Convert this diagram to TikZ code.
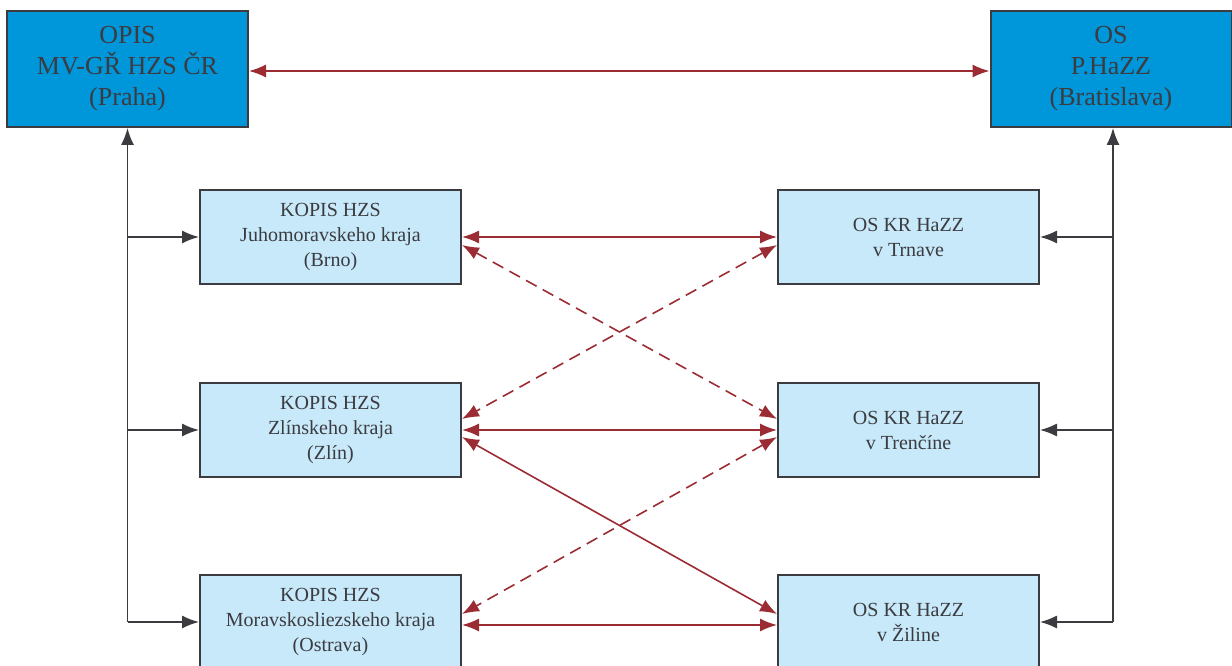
\documentclass[tikz,border=0pt]{standalone}
\usepackage{fontspec}
\setmainfont{Liberation Serif}
\newfontfamily\diagfont{Liberation Serif}
\usetikzlibrary{arrows.meta,positioning}
\definecolor{hzsblue}{HTML}{0096DA}
\definecolor{boxblue}{HTML}{C7E9F9}
\definecolor{linkred}{HTML}{9B2C33}
\definecolor{linegray}{HTML}{3B3B40}

\begin{document}
\begin{tikzpicture}[x=1pt,y=-1pt,
  main/.style={draw=linegray,line width=2pt,fill=hzsblue,minimum width=241pt,
    minimum height=116pt,align=center,text=linegray,
    font=\diagfont\fontsize{26}{31}\selectfont},
  unit/.style={draw=linegray,line width=2pt,fill=boxblue,minimum width=261pt,
    minimum height=94pt,align=center,text=linegray,
    font=\diagfont\fontsize{20}{25}\selectfont},
  feed/.style={draw=linegray,line width=1.6pt,-{Latex[length=17pt,width=13pt]}},
  link/.style={draw=linkred,line width=1.6pt,
    {Latex[length=17pt,width=13pt]}-{Latex[length=17pt,width=13pt]}},
  weak/.style={link,dash pattern=on 12pt off 7pt}]
\useasboundingbox (0,0) rectangle (1232,666);

% headquarters
\node[main] (opis) at (127.5,69) {OPIS\\MV-GŘ HZS ČR\\(Praha)};
\node[main] (os)   at (1111,69)  {OS\\P.HaZZ\\(Bratislava)};

% regional centres
\node[unit] (brno)    at (330.5,237) {KOPIS HZS\\Juhomoravskeho kraja\\(Brno)};
\node[unit] (zlin)    at (330.5,430) {KOPIS HZS\\Zlínskeho kraja\\(Zlín)};
\node[unit] (ostrava) at (330.5,622) {KOPIS HZS\\Moravskosliezskeho kraja\\(Ostrava)};
\node[unit] (trnava)  at (908.5,237) {OS KR HaZZ\\v Trnave};
\node[unit] (trencin) at (908.5,430) {OS KR HaZZ\\v Trenčíne};
\node[unit] (zilina)  at (908.5,622) {OS KR HaZZ\\v Žiline};

% buses
\coordinate (lbus) at (opis.south |- ostrava.west);
\coordinate (rbus) at (1113,622);
\draw[feed] (lbus) -- (opis.south);
\draw[feed] (lbus) -- (ostrava.west);
\draw[feed] (lbus |- brno.west) -- (brno.west);
\draw[feed] (lbus |- zlin.west) -- (zlin.west);
\draw[feed] (rbus) -- (rbus |- os.south);
\draw[feed] (rbus) -- (zilina.east);
\draw[feed] (rbus |- trnava.east) -- (trnava.east);
\draw[feed] (rbus |- trencin.east) -- (trencin.east);

% links
\draw[link] ([yshift=-2pt]opis.east) -- ([yshift=-2pt]os.west);
\draw[link] (brno) -- (trnava);
\draw[link] (zlin) -- (trencin);
\draw[link] ([yshift=-3pt]ostrava.east) -- ([yshift=-3pt]zilina.west);
\draw[weak] ([yshift=-8pt]brno.east) -- ([yshift=11pt]trencin.west);
\draw[weak] ([yshift=-8pt]trnava.west) -- ([yshift=11pt]zlin.east);
\draw[link] ([yshift=-7pt]zlin.east) -- ([yshift=8pt]zilina.west);
\draw[weak] ([yshift=-7pt]trencin.west) -- ([yshift=8pt]ostrava.east);
\end{tikzpicture}
\end{document}
